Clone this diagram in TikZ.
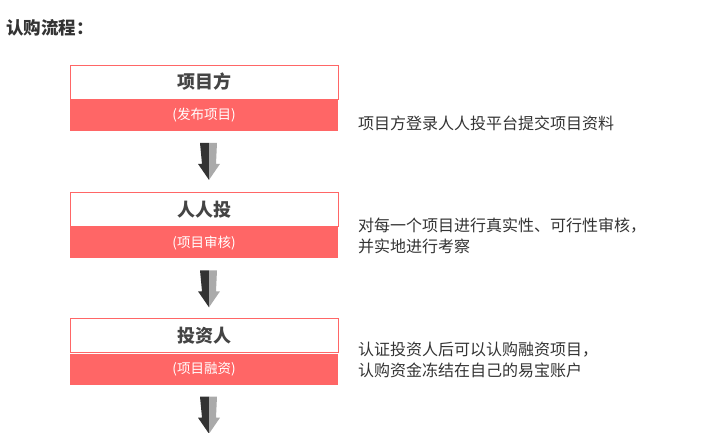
\documentclass[tikz,border=0pt]{standalone}
\usepackage{fontspec}
\setmainfont{Noto Sans CJK SC}
\usetikzlibrary{positioning}
\definecolor{boxred}{HTML}{FF6666}
\definecolor{titlegray}{HTML}{444444}
\definecolor{textgray}{HTML}{333333}
\definecolor{arrowdark}{HTML}{333333}
\definecolor{arrowlight}{HTML}{AAAAAA}

\begin{document}
\begin{tikzpicture}[x=1pt,y=-1pt,
  headbox/.style={draw=boxred,line width=1pt,minimum width=268pt,minimum height=34pt,inner sep=0pt,
    font=\fontsize{18}{20}\selectfont\bfseries,text=titlegray},
  subbox/.style={fill=boxred,minimum width=268pt,minimum height=31pt,inner sep=0pt,
    font=\fontsize{13.5}{15}\selectfont,text=white},
  note/.style={anchor=west,inner sep=0pt,align=left,font=\fontsize{16}{21}\selectfont,text=textgray},
  pics/flowarrow/.style={code={
    \fill[arrowdark] (-9,0)--(0,0)--(0,37)--(-11,21)--(-7,21)--cycle;
    \fill[arrowlight] (0,0)--(8,0)--(7,21)--(11,21)--(0,37)--cycle;
  }}]
\useasboundingbox (0,0) rectangle (705,432);
\node[anchor=west,inner sep=0pt,font=\fontsize{17.5}{20}\selectfont\bfseries,text=textgray] (title) at (6,28) {认购流程：};
% three steps, stacked with equal gaps
\node[headbox] (fang) at (204,82) {项目方};
\node[subbox,below=0pt of fang] (fangsub) {(发布项目)};
\node[headbox,below=61pt of fangsub] (renren) {人人投};
\node[subbox,below=0pt of renren] (renrensub) {(项目审核)};
\node[headbox,below=60pt of renrensub] (touzi) {投资人};
\node[subbox,below=0pt of touzi] (touzisub) {(项目融资)};
% arrows sit a little right of the box centre
\pic at ([xshift=5pt,yshift=-12pt]fangsub.south) {flowarrow};
\pic at ([xshift=5pt,yshift=-12pt]renrensub.south) {flowarrow};
\pic at ([xshift=5pt,yshift=-12pt]touzisub.south) {flowarrow};
\node[note] (fangnote) at (358,123) {项目方登录人人投平台提交项目资料};
\node[note] (renrennote) at (358,236) {对每一个项目进行真实性、可行性审核，\\并实地进行考察};
\node[note] (touzinote) at (358,360) {认证投资人后可以认购融资项目，\\认购资金冻结在自己的易宝账户};
\end{tikzpicture}
\end{document}
